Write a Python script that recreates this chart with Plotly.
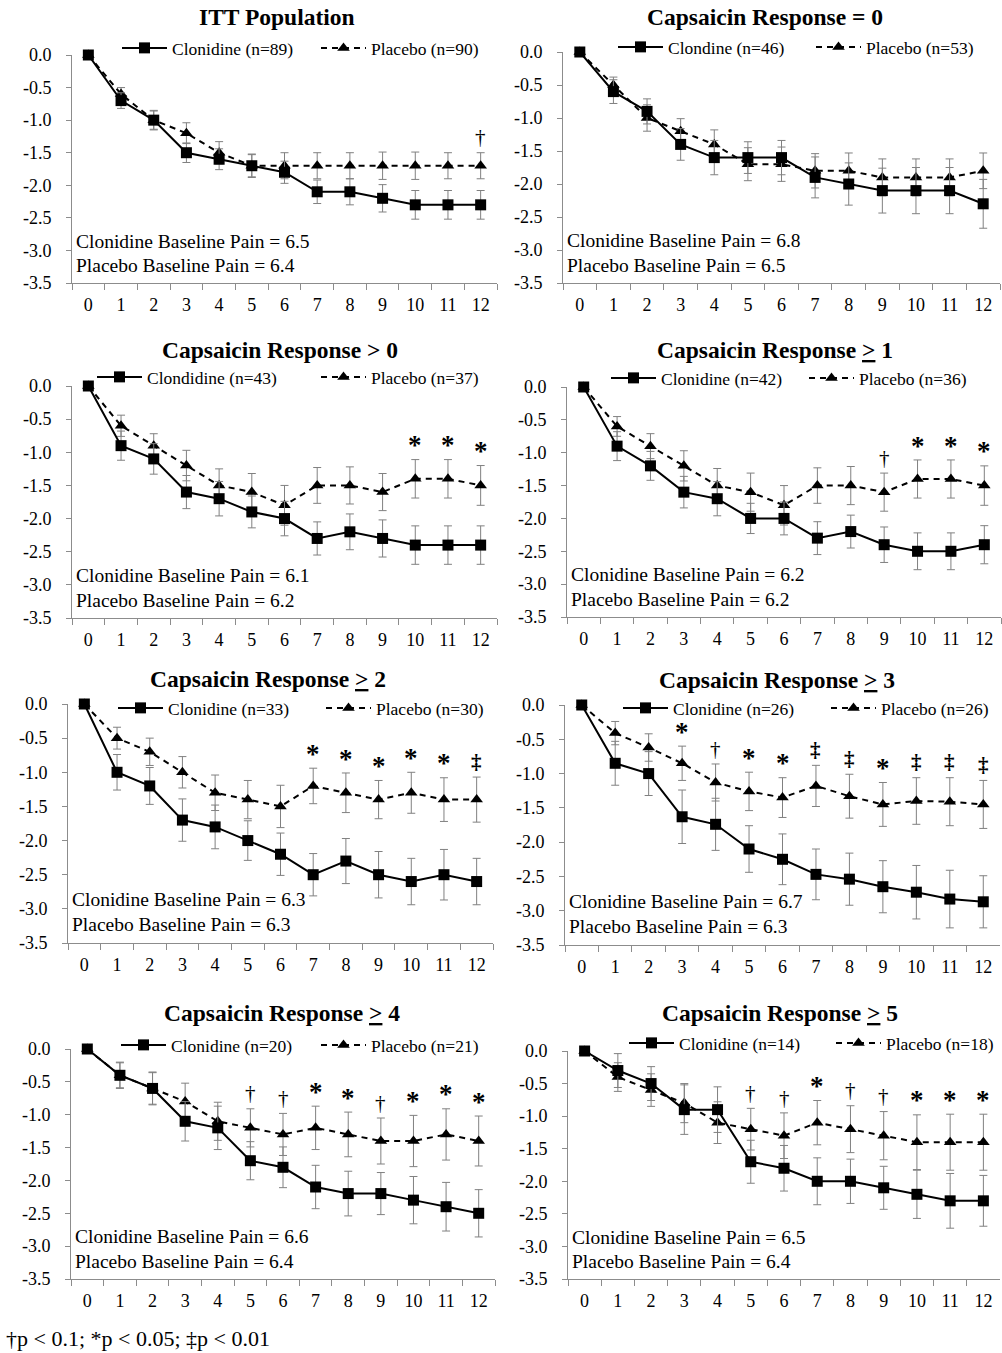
import plotly.graph_objects as go

W, H = 1002, 1353
FONT = "Liberation Serif, Times New Roman, serif"

weeks = [str(i) for i in range(13)]
y_tick_vals = [0.0, -0.5, -1.0, -1.5, -2.0, -2.5, -3.0, -3.5]
y_tick_text = ["0.0", "-0.5", "-1.0", "-1.5", "-2.0", "-2.5", "-3.0", "-3.5"]

titles = [
    "ITT Population",
    "Capsaicin Response = 0",
    "Capsaicin Response > 0",
    "Capsaicin Response <u>></u> 1",
    "Capsaicin Response <u>></u> 2",
    "Capsaicin Response <u>></u> 3",
    "Capsaicin Response <u>></u> 4",
    "Capsaicin Response <u>></u> 5",
]
clon_names = ["Clonidine (n=89)", "Clondine (n=46)", "Clondidine (n=43)", "Clonidine (n=42)",
              "Clonidine (n=33)", "Clonidine (n=26)", "Clonidine (n=20)", "Clonidine (n=14)"]
plac_names = ["Placebo (n=90)", "Placebo (n=53)", "Placebo (n=37)", "Placebo (n=36)",
              "Placebo (n=30)", "Placebo (n=26)", "Placebo (n=21)", "Placebo (n=18)"]
clon_baseline = [6.5, 6.8, 6.1, 6.2, 6.3, 6.7, 6.6, 6.5]
plac_baseline = [6.4, 6.5, 6.2, 6.2, 6.3, 6.3, 6.4, 6.4]

# ITT population
clon_itt = [0, -0.7, -1.0, -1.5, -1.6, -1.7, -1.8, -2.1, -2.1, -2.2, -2.3, -2.3, -2.3]
clon_itt_err = [0, 0.12, 0.14, 0.15, 0.16, 0.17, 0.17, 0.18, 0.2, 0.21, 0.22, 0.22, 0.22]
plac_itt = [0, -0.6, -1.0, -1.2, -1.5, -1.7, -1.7, -1.7, -1.7, -1.7, -1.7, -1.7, -1.7]
plac_itt_err = [0, 0.1, 0.15, 0.16, 0.17, 0.18, 0.2, 0.2, 0.2, 0.21, 0.21, 0.2, 0.2]
sig_itt = ["", "", "", "", "", "", "", "", "", "", "", "", "†"]

# Capsaicin response = 0
clon_r0 = [0, -0.6, -0.9, -1.4, -1.6, -1.6, -1.6, -1.9, -2.0, -2.1, -2.1, -2.1, -2.3]
clon_r0_err = [0, 0.18, 0.19, 0.24, 0.26, 0.24, 0.26, 0.31, 0.32, 0.34, 0.35, 0.35, 0.37]
plac_r0 = [0, -0.5, -1.0, -1.2, -1.4, -1.7, -1.7, -1.8, -1.8, -1.9, -1.9, -1.9, -1.8]
plac_r0_err = [0, 0.12, 0.2, 0.19, 0.22, 0.25, 0.26, 0.26, 0.27, 0.28, 0.28, 0.28, 0.27]
sig_r0 = [""] * 13

# Capsaicin response > 0
clon_gt0 = [0, -0.9, -1.1, -1.6, -1.7, -1.9, -2.0, -2.3, -2.2, -2.3, -2.4, -2.4, -2.4]
clon_gt0_err = [0, 0.22, 0.23, 0.25, 0.26, 0.24, 0.26, 0.25, 0.27, 0.28, 0.29, 0.29, 0.29]
plac_gt0 = [0, -0.6, -0.9, -1.2, -1.5, -1.6, -1.8, -1.5, -1.5, -1.6, -1.4, -1.4, -1.5]
plac_gt0_err = [0, 0.16, 0.18, 0.23, 0.25, 0.28, 0.3, 0.27, 0.28, 0.28, 0.29, 0.29, 0.3]
sig_gt0 = ["", "", "", "", "", "", "", "", "", "", "*", "*", "*"]

# Capsaicin response >= 1
clon_ge1 = [0, -0.9, -1.2, -1.6, -1.7, -2.0, -2.0, -2.3, -2.2, -2.4, -2.5, -2.5, -2.4]
clon_ge1_err = [0, 0.22, 0.22, 0.24, 0.26, 0.23, 0.25, 0.25, 0.25, 0.27, 0.28, 0.28, 0.29]
plac_ge1 = [0, -0.6, -0.9, -1.2, -1.5, -1.6, -1.8, -1.5, -1.5, -1.6, -1.4, -1.4, -1.5]
plac_ge1_err = [0, 0.15, 0.19, 0.23, 0.26, 0.29, 0.3, 0.27, 0.29, 0.29, 0.29, 0.29, 0.3]
sig_ge1 = ["", "", "", "", "", "", "", "", "", "†", "*", "*", "*"]

# Capsaicin response >= 2
clon_ge2 = [0, -1.0, -1.2, -1.7, -1.8, -2.0, -2.2, -2.5, -2.3, -2.5, -2.6, -2.5, -2.6]
clon_ge2_err = [0, 0.26, 0.27, 0.31, 0.32, 0.29, 0.31, 0.31, 0.33, 0.34, 0.34, 0.37, 0.34]
plac_ge2 = [0, -0.5, -0.7, -1.0, -1.3, -1.4, -1.5, -1.2, -1.3, -1.4, -1.3, -1.4, -1.4]
plac_ge2_err = [0, 0.16, 0.2, 0.23, 0.26, 0.28, 0.31, 0.26, 0.29, 0.28, 0.3, 0.32, 0.33]
sig_ge2 = ["", "", "", "", "", "", "", "*", "*", "*", "*", "*", "‡"]

# Capsaicin response >= 3
clon_ge3 = [0, -0.85, -1.0, -1.63, -1.74, -2.1, -2.25, -2.47, -2.54, -2.65, -2.73, -2.83, -2.87]
clon_ge3_err = [0, 0.32, 0.32, 0.39, 0.38, 0.34, 0.37, 0.37, 0.38, 0.38, 0.39, 0.42, 0.38]
plac_ge3 = [0, -0.41, -0.62, -0.85, -1.13, -1.26, -1.35, -1.18, -1.33, -1.45, -1.4, -1.41, -1.45]
plac_ge3_err = [0, 0.17, 0.2, 0.25, 0.27, 0.28, 0.29, 0.3, 0.32, 0.32, 0.34, 0.35, 0.35]
sig_ge3 = ["", "", "", "*", "†", "*", "*", "‡", "‡", "*", "‡", "‡", "‡"]

# Capsaicin response >= 4
clon_ge4 = [0, -0.4, -0.6, -1.1, -1.2, -1.7, -1.8, -2.1, -2.2, -2.2, -2.3, -2.4, -2.5]
clon_ge4_err = [0, 0.2, 0.25, 0.3, 0.33, 0.29, 0.31, 0.33, 0.34, 0.32, 0.36, 0.37, 0.36]
plac_ge4 = [0, -0.4, -0.6, -0.8, -1.1, -1.2, -1.3, -1.2, -1.3, -1.4, -1.4, -1.3, -1.4]
plac_ge4_err = [0, 0.19, 0.24, 0.28, 0.29, 0.29, 0.32, 0.33, 0.34, 0.35, 0.39, 0.39, 0.38]
sig_ge4 = ["", "", "", "", "", "†", "†", "*", "*", "†", "*", "*", "*"]

# Capsaicin response >= 5
clon_ge5 = [0, -0.3, -0.5, -0.9, -0.9, -1.7, -1.8, -2.0, -2.0, -2.1, -2.2, -2.3, -2.3]
clon_ge5_err = [0, 0.26, 0.26, 0.38, 0.35, 0.33, 0.35, 0.36, 0.34, 0.33, 0.37, 0.42, 0.39]
plac_ge5 = [0, -0.4, -0.6, -0.8, -1.1, -1.2, -1.3, -1.1, -1.2, -1.3, -1.4, -1.4, -1.4]
plac_ge5_err = [0, 0.22, 0.25, 0.3, 0.32, 0.32, 0.35, 0.34, 0.36, 0.37, 0.42, 0.43, 0.43]
sig_ge5 = ["", "", "", "", "", "†", "†", "*", "†", "†", "*", "*", "*"]

panel_data = [
    (clon_itt, clon_itt_err, plac_itt, plac_itt_err, sig_itt),
    (clon_r0, clon_r0_err, plac_r0, plac_r0_err, sig_r0),
    (clon_gt0, clon_gt0_err, plac_gt0, plac_gt0_err, sig_gt0),
    (clon_ge1, clon_ge1_err, plac_ge1, plac_ge1_err, sig_ge1),
    (clon_ge2, clon_ge2_err, plac_ge2, plac_ge2_err, sig_ge2),
    (clon_ge3, clon_ge3_err, plac_ge3, plac_ge3_err, sig_ge3),
    (clon_ge4, clon_ge4_err, plac_ge4, plac_ge4_err, sig_ge4),
    (clon_ge5, clon_ge5_err, plac_ge5, plac_ge5_err, sig_ge5),
]

# layout geometry (pixels): left, right, top, bottom of each plot area
boxes = [
    (72, 497, 55, 283), (563, 1000, 52, 283),
    (72, 497, 386, 618), (567, 1001, 387, 617),
    (68, 493, 704, 943), (565, 1000, 705, 945),
    (71, 495, 1049, 1279), (568, 1000, 1051, 1279),
]
title_pos = [(277, 17), (765, 17), (280, 350), (775, 350),
             (268, 679), (777, 680), (282, 1013), (780, 1013)]
legend_pos = [((116, 315), 48), ((612, 810), 47), ((91, 315), 377), ((605, 803), 378),
              ((112, 320), 708), ((617, 825), 708), ((115, 315), 1045), ((623, 830), 1043)]

AX_COL = "#8c8c8c"
ERR_COL = "#808080"
SIG_STYLE = {"*": ("<b>*</b>", 27, -0.04), "†": ("†", 21, 0.02), "‡": ("<b>‡</b>", 21, 0.02)}

fig = go.Figure()
layout = dict(
    width=W, height=H, margin=dict(l=0, r=0, t=0, b=0, autoexpand=False),
    paper_bgcolor="white", plot_bgcolor="white", showlegend=True,
    font=dict(family=FONT, color="black", size=17),
    annotations=[],
)

for i, (clon, clon_err, plac, plac_err, sig) in enumerate(panel_data):
    k = i + 1
    sfx = "" if k == 1 else str(k)
    xa, ya = "x" + sfx, "y" + sfx
    l, r, t, b = boxes[i]
    layout["xaxis" + sfx] = dict(
        domain=[l / W, r / W], anchor=ya, type="category", range=[-0.5, 12.5],
        tickson="boundaries", ticks="outside", ticklen=6, tickcolor=AX_COL,
        showline=True, linecolor=AX_COL, linewidth=1, showgrid=False, zeroline=False,
        tickfont=dict(family=FONT, size=18), ticklabelstandoff=5,
        categoryorder="array", categoryarray=weeks,
    )
    layout["yaxis" + sfx] = dict(
        domain=[1 - b / H, 1 - t / H], anchor=xa, range=[-3.5, 0],
        tickvals=y_tick_vals, ticktext=y_tick_text,
        ticks="outside", ticklen=5, tickcolor=AX_COL,
        showline=True, linecolor=AX_COL, linewidth=1, showgrid=False, zeroline=False,
        tickfont=dict(family=FONT, size=18), ticklabelstandoff=11,
    )
    leg_c = "legend" if k == 1 else "legend" + str(2 * i + 1)
    leg_p = "legend" + str(2 * i + 2)
    (xc, xp), ly = legend_pos[i]
    for leg, xx in ((leg_c, xc), (leg_p, xp)):
        layout[leg] = dict(
            x=(xx + 1) / W, xanchor="left", y=1 - ly / H, yanchor="middle",
            orientation="h", bgcolor="rgba(0,0,0,0)", borderwidth=0,
            font=dict(family=FONT, size=17.5, color="black"), itemwidth=45,
        )
    fig.add_trace(go.Scatter(
        x=weeks, y=plac, xaxis=xa, yaxis=ya, name=plac_names[i], legend=leg_p, showlegend=True,
        mode="lines+markers", cliponaxis=False,
        line=dict(color="black", width=2, dash="6px,5px"),
        marker=dict(symbol="triangle-up", size=11, color="black"),
        error_y=dict(type="data", array=plac_err, visible=True, color=ERR_COL, thickness=1, width=4),
    ))
    fig.add_trace(go.Scatter(
        x=weeks, y=clon, xaxis=xa, yaxis=ya, name=clon_names[i], legend=leg_c, showlegend=True,
        mode="lines+markers", cliponaxis=False,
        line=dict(color="black", width=2),
        marker=dict(symbol="square", size=11, color="black"),
        error_y=dict(type="data", array=clon_err, visible=True, color=ERR_COL, thickness=1, width=4),
    ))
    # title
    tx, ty = title_pos[i]
    layout["annotations"].append(dict(
        text="<b>" + titles[i] + "</b>", x=tx / W, y=1 - ty / H, xref="paper", yref="paper",
        xanchor="center", yanchor="middle", showarrow=False,
        font=dict(family=FONT, size=23.5, color="black"),
    ))
    # baseline texts
    for txt, yy in ((f"Clonidine Baseline Pain = {clon_baseline[i]}", -2.86),
                    (f"Placebo Baseline Pain = {plac_baseline[i]}", -3.23)):
        layout["annotations"].append(dict(
            text=txt, x=0.005, xref=xa + " domain", y=yy, yref=ya,
            xanchor="left", yanchor="middle", showarrow=False,
            font=dict(family=FONT, size=19.5, color="black"),
        ))
    # significance markers
    for j, s in enumerate(sig):
        if s:
            txt, fs, off = SIG_STYLE[s]
            layout["annotations"].append(dict(
                text=txt, x=weeks[j], xref=xa, y=plac[j] + plac_err[j] + off, yref=ya,
                xanchor="center", yanchor="bottom", showarrow=False,
                font=dict(family=FONT, size=fs, color="black"),
            ))

layout["annotations"].append(dict(
    text="†p < 0.1; *p < 0.05; ‡p < 0.01", x=4 / W, y=1 - 1338 / H, xref="paper", yref="paper",
    xanchor="left", yanchor="middle", showarrow=False, font=dict(family=FONT, size=22, color="black"),
))

fig.update_layout(**layout)
fig.write_html("out.html")
